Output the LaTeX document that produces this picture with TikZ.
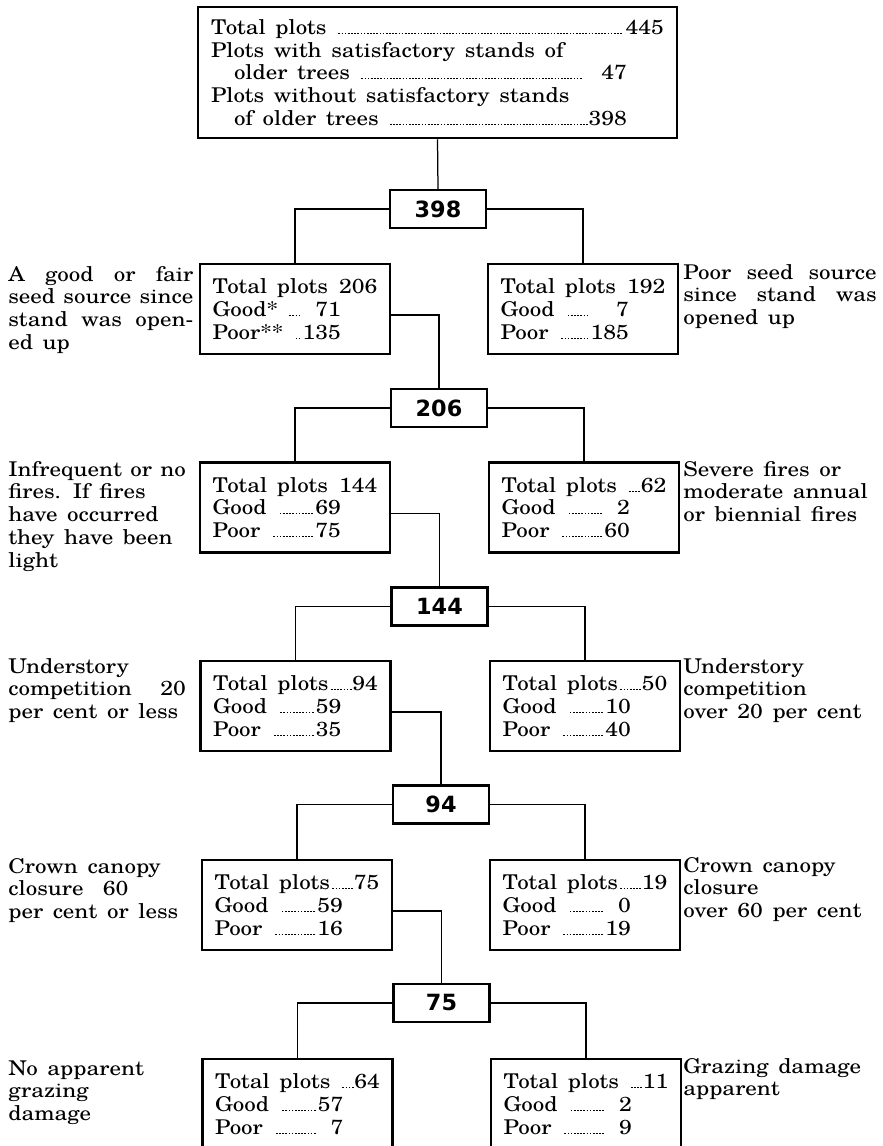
\documentclass[tikz,border=0pt]{standalone}
\usepackage{fontspec}
\setmainfont{texgyreschola-regular.otf}[FakeStretch=1.13, WordSpace=1.5]
\newfontfamily\numfont{DejaVu Sans}

\newcommand{\boxfont}{\fontsize{12.2}{13.7}\selectfont}
\newcommand{\dleader}{\leaders\hbox to 1.9pt{\hss\rule[0.3pt]{1pt}{0.55pt}\hss}\hfill}
\newcommand{\totrow}[2]{\hbox to 99pt{#1\dleader#2}}
\newcommand{\plainrow}[2]{\hbox to 99pt{#1\hfill#2}}
\newcommand{\gprow}[2]{\hbox to 77pt{#1\dleader#2}}

\begin{document}
\begin{tikzpicture}[x=0.6pt, y=-0.6pt,
        tally/.style={draw, line width=1.5pt, minimum width=114pt, minimum height=54pt, inner sep=0pt, align=left, font=\boxfont},
        split/.style={draw, line width=1.5pt, minimum width=57.6pt, minimum height=22.8pt, inner sep=0pt, font=\numfont\bfseries\fontsize{13.4}{15}\selectfont},
        note/.style={anchor=base west, inner sep=0pt, text width=106.5pt, align=justify, font=\boxfont},
        rnote/.style={note, text width=116pt},
        conn/.style={line width=0.75pt}]
        \useasboundingbox (0,0) rectangle (882,1146);
        \fill[white] (0,0) rectangle (882,1146);

        \node[tally, minimum width=287.4pt, minimum height=78.6pt] (top) at (437.5,72.5) {%
            \hbox to 271.8pt{Total plots \dleader445}\\
            Plots with satisfactory stands of\\
            \hspace*{13.8pt}\hbox to 235.8pt{older trees \dleader\phantom{0}\,47}\\
            Plots without satisfactory stands\\
            \hspace*{13.8pt}\hbox to 235.8pt{of older trees \dleader398}};

        % first split
        \node[split]  (d1) at (438,209)    {398};
        \node[tally]  (b1l) at (295,309)   {\plainrow{Total plots}{206}\\ \gprow{Good*\ }{\phantom{0}71}\\ \gprow{Poor**\ }{135}};
        \node[tally]  (b1r) at (583,309)   {\plainrow{Total plots}{192}\\ \gprow{Good\ }{\phantom{00}7}\\ \gprow{Poor\ }{185}};
        \node[note, text width=111pt] (n1l) at (8,281) {A good or fair\linebreak seed source since\linebreak stand was open-\linebreak ed up};
        \node[rnote]  (n1r) at (683,279)   {Poor seed source\linebreak since stand was\linebreak opened up};

        % second split
        \node[split]  (d2) at (439,408)    {206};
        \node[tally]  (b2l) at (295,507.5) {\plainrow{Total plots}{144}\\ \gprow{Good\ }{69}\\ \gprow{Poor\ }{75}};
        \node[tally]  (b2r) at (584,507.5) {\totrow{Total plots\ }{62}\\ \gprow{Good\ }{\phantom{0}2}\\ \gprow{Poor\ }{60}};
        \node[note]   (n2l) at (8,476)     {Infrequent or no\linebreak fires. If fires\\ have occurred\\ they have been\\ light};
        \node[rnote]  (n2r) at (683,476)   {Severe fires or\\ moderate annual\\ or biennial fires};

        % third split
        \node[split]  (d3) at (439.5,606.5) {144};
        \node[tally]  (b3l) at (295.5,706)  {\totrow{Total plots}{94}\\ \gprow{Good\ }{59}\\ \gprow{Poor\ }{35}};
        \node[tally]  (b3r) at (585,706)    {\totrow{Total plots}{50}\\ \gprow{Good\ }{10}\\ \gprow{Poor\ }{40}};
        \node[note]   (n3l) at (8,673)      {Understory\\ competition 20\linebreak per cent or less};
        \node[rnote]  (n3r) at (683,673)    {Understory\\ competition\\ over 20 per cent};

        % fourth split
        \node[split]  (d4) at (441,804.5)  {94};
        \node[tally]  (b4l) at (297,905)   {\totrow{Total plots}{75}\\ \gprow{Good\ }{59}\\ \gprow{Poor\ }{16}};
        \node[tally]  (b4r) at (585,905)   {\totrow{Total plots}{19}\\ \gprow{Good\ }{\phantom{0}0}\\ \gprow{Poor\ }{19}};
        \node[note]   (n4l) at (8,873)     {Crown canopy\\ closure\ \ 60\\ per cent or less};
        \node[rnote]  (n4r) at (683,872)   {Crown canopy\\ closure\\ over 60 per cent};

        % fifth split
        \node[split]  (d5) at (441.5,1003) {75};
        \node[tally]  (b5l) at (297.5,1104) {\totrow{Total plots\ }{64}\\ \gprow{Good\ }{57}\\ \gprow{Poor\ }{\phantom{0}7}};
        \node[tally]  (b5r) at (586,1104)   {\totrow{Total plots\ }{11}\\ \gprow{Good\ }{\phantom{0}2}\\ \gprow{Poor\ }{\phantom{0}9}};
        \node[note]   (n5l) at (8,1075)    {No apparent\\ grazing\\ damage};
        \node[rnote]  (n5r) at (683,1073)  {Grazing damage\\ apparent};

        \draw[conn] (top.south) -- (d1.north);
        \draw[conn] (d1.west) -| (b1l.north);
        \draw[conn] (d1.east) -| (b1r.north);
        \draw[conn] ([yshift=-3.6pt]b1l.east) -| (d2.north);
        \draw[conn] (d2.west) -| (b2l.north);
        \draw[conn] (d2.east) -| (b2r.north);
        \draw[conn] ([yshift=-3.6pt]b2l.east) -| (d3.north);
        \draw[conn] (d3.west) -| (b3l.north);
        \draw[conn] (d3.east) -| (b3r.north);
        \draw[conn] ([yshift=-3.6pt]b3l.east) -| (d4.north);
        \draw[conn] (d4.west) -| (b4l.north);
        \draw[conn] (d4.east) -| (b4r.north);
        \draw[conn] ([yshift=-3.6pt]b4l.east) -| (d5.north);
        \draw[conn] (d5.west) -| (b5l.north);
        \draw[conn] (d5.east) -| (b5r.north);
\end{tikzpicture}
\end{document}
